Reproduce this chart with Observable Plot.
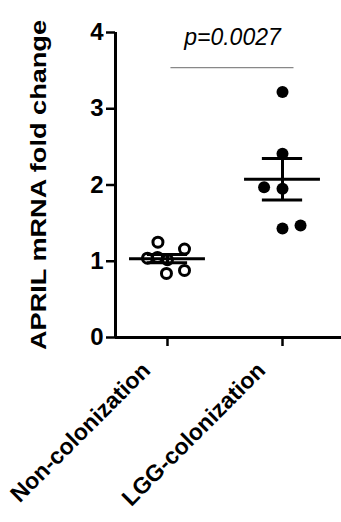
<!DOCTYPE html>
<html><head><meta charset="utf-8">
<script src="https://cdn.jsdelivr.net/npm/d3@7"></script>
<script src="https://cdn.jsdelivr.net/npm/@observablehq/plot@0.6"></script>
<style>
body{margin:0;background:#fff;}
svg{font-family:"Liberation Sans",Arial,sans-serif;}
</style></head><body><div id="chart"></div>
<script>
const groups = ["Non-colonization", "LGG-colonization"];
const nonColValues = [1.25, 1.16, 0.84, 0.88, 1.04, 1.05, 1.02];
const nonColX = [-0.083, 0.148, -0.009, 0.148, -0.174, -0.087, 0.0];
const lggValues = [3.22, 2.41, 1.97, 1.95, 1.43, 1.47];
const lggX = [0, 0, -0.16, 0, 0, 0.157];
const yTicks = [0, 1, 2, 3, 4];
const yLabel = "APRIL mRNA fold change";
const pLabel = "p=0.0027";
const pBracketY = 3.54;
const pTextY = 3.83;
const pBracketX = [1.03, 2.1];

const nonPts = nonColValues.map((v, i) => ({group: groups[0], pos: 1 + nonColX[i], value: v}));
const lggPts = lggValues.map((v, i) => ({group: groups[1], pos: 2 + lggX[i], value: v}));

const stats = [nonColValues, lggValues].map((vals, i) => {
  const m = d3.mean(vals);
  const se = d3.deviation(vals) / Math.sqrt(vals.length);
  return {pos: i + 1, mean: m, lo: m - se, hi: m + se};
});

const xDomain = [0.548, 2.513];

const chart = Plot.plot({
  width: 341,
  height: 522,
  marginLeft: 115,
  marginRight: 0,
  marginTop: 32,
  marginBottom: 185,
  style: {fontFamily: "Liberation Sans, Arial, sans-serif", background: "#fff"},
  x: {domain: xDomain},
  y: {domain: [0, 4]},
  marks: [
    Plot.axisY({ticks: yTicks, tickFormat: d => String(d), tickSize: 9, tickPadding: 3, fontSize: 24, fontWeight: "bold", strokeWidth: 2.5, label: yLabel, labelAnchor: "center", labelOffset: 85, color: "#000"}),
    Plot.axisX({ticks: [1, 2], tickFormat: () => "", tickSize: 9, strokeWidth: 2.5, label: null, color: "#000"}),
    Plot.axisX({ticks: [1, 2], tickFormat: d => groups[d - 1], tickSize: 0, tickPadding: 12, tickRotate: -45, fontSize: 23, fontWeight: "bold", label: null, color: "#000", dx: -21, dy: 17}),
    Plot.ruleY([0], {strokeWidth: 3}),
    Plot.ruleX([xDomain[0]], {strokeWidth: 3}),
    Plot.dot(nonPts, {x: "pos", y: "value", r: 5, stroke: "#000", strokeWidth: 3, fill: "#fff"}),
    Plot.dot(lggPts, {x: "pos", y: "value", r: 6, fill: "#000"}),
    Plot.ruleY(stats, {y: "mean", x1: d => d.pos - 0.33, x2: d => d.pos + 0.33, strokeWidth: 3}),
    Plot.ruleX(stats, {x: "pos", y1: "lo", y2: "hi", strokeWidth: 3}),
    Plot.ruleY(stats, {y: "hi", x1: d => d.pos - 0.175, x2: d => d.pos + 0.175, strokeWidth: 3}),
    Plot.ruleY(stats, {y: "lo", x1: d => d.pos - 0.175, x2: d => d.pos + 0.175, strokeWidth: 3}),
    Plot.ruleY([pBracketY], {x1: pBracketX[0], x2: pBracketX[1], stroke: "#888", strokeWidth: 1.2}),
    Plot.text([pLabel], {x: (pBracketX[0] + pBracketX[1]) / 2, y: pTextY, text: d => d, fontSize: 23, fontStyle: "italic", textAnchor: "middle", lineAnchor: "bottom", fill: "#000"})
  ]
});
document.getElementById("chart").appendChild(chart);
const lab = d3.select(chart).select('g[aria-label="y-axis label"] text');
lab.text(yLabel).attr("textLength", 330).attr("lengthAdjust", "spacingAndGlyphs").style("font-weight", "bold").style("font-size", "22px");
</script></body></html>
